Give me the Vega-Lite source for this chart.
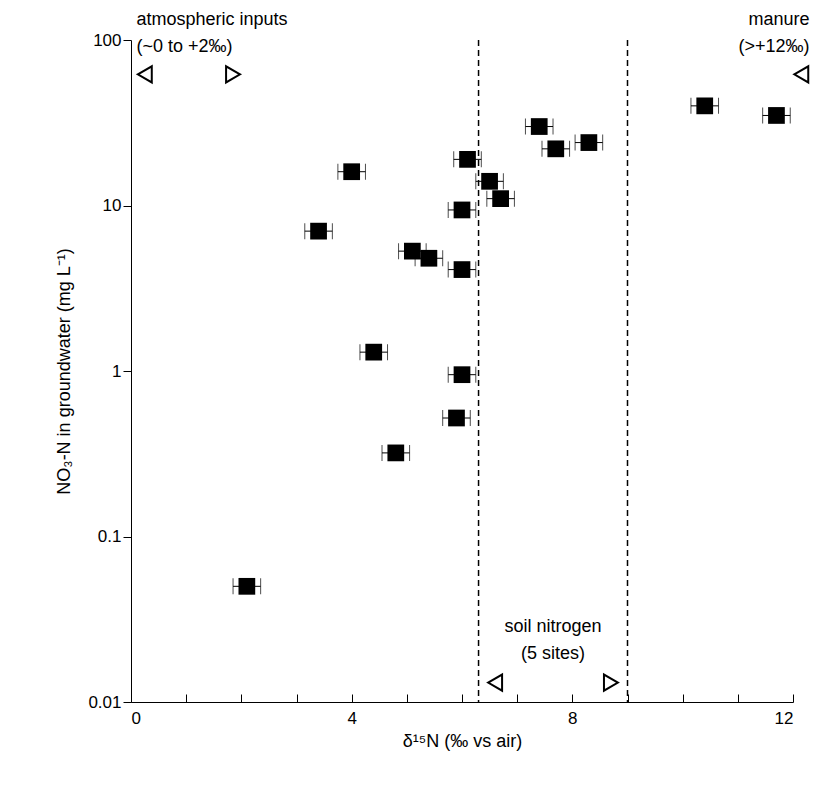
{
"$schema":"https://vega.github.io/schema/vega-lite/v6.json",
"width":662,"height":662,
"autosize":{"type":"none"},
"padding":{"left":131,"top":40,"right":22,"bottom":85},
"background":"white",
"config":{"view":{"stroke":null},"font":"Liberation Sans","axis":{"labelFont":"Liberation Sans","titleFont":"Liberation Sans","labelFontSize":17,"titleFontSize":18,"titleFontWeight":"normal","grid":false,"domainColor":"black","tickColor":"black","labelColor":"black","titleColor":"black"}},
"datasets":{
"pts":[
{"x":2.1,"y":0.05,"lo":1.85,"hi":2.35},
{"x":3.4,"y":7,"lo":3.15,"hi":3.65},
{"x":4.0,"y":16,"lo":3.75,"hi":4.25},
{"x":4.4,"y":1.3,"lo":4.15,"hi":4.65},
{"x":4.8,"y":0.32,"lo":4.55,"hi":5.05},
{"x":5.1,"y":5.3,"lo":4.85,"hi":5.35},
{"x":5.4,"y":4.8,"lo":5.15,"hi":5.65},
{"x":5.9,"y":0.52,"lo":5.65,"hi":6.15},
{"x":6.0,"y":0.95,"lo":5.75,"hi":6.25},
{"x":6.0,"y":4.1,"lo":5.75,"hi":6.25},
{"x":6.0,"y":9.4,"lo":5.75,"hi":6.25},
{"x":6.1,"y":19,"lo":5.85,"hi":6.35},
{"x":6.5,"y":14,"lo":6.25,"hi":6.75},
{"x":6.7,"y":11,"lo":6.45,"hi":6.95},
{"x":7.4,"y":30,"lo":7.15,"hi":7.65},
{"x":7.7,"y":22,"lo":7.45,"hi":7.95},
{"x":8.3,"y":24,"lo":8.05,"hi":8.55},
{"x":10.4,"y":40,"lo":10.15,"hi":10.65},
{"x":11.7,"y":35,"lo":11.45,"hi":11.95}],
"tri":[
{"x":0.25,"y":62,"s":"triangle-left"},
{"x":1.85,"y":62,"s":"triangle-right"},
{"x":12.15,"y":62,"s":"triangle-left"},
{"x":6.6,"y":0.0131,"s":"triangle-left"},
{"x":8.7,"y":0.0131,"s":"triangle-right"}],
"labL":[
{"x":0.1,"y":132,"t":"atmospheric inputs"},
{"x":0.1,"y":91,"t":"(~0 to +2‰)"}],
"labR":[
{"x":12.3,"y":132,"t":"manure"},
{"x":12.3,"y":91,"t":"(>+12‰)"}],
"labC":[
{"x":7.65,"y":0.0284,"t":"soil nitrogen"},
{"x":7.65,"y":0.0195,"t":"(5 sites)"}],
"vl":[{"x":6.3},{"x":9}]
},
"layer":[
{"data":{"name":"vl"},"mark":{"type":"rule","strokeDash":[6,4],"color":"black","strokeWidth":1.5},"encoding":{"x":{"field":"x","type":"quantitative"}}},
{"data":{"name":"pts"},"mark":{"type":"rule","color":"black"},"encoding":{
"x":{"field":"lo","type":"quantitative","scale":{"domain":[0,12]},"axis":{"values":[0,1,2,3,4,5,6,7,8,9,10,11,12],"format":"d","labelExpr":"datum.value%4==0?datum.label:''","title":"δ¹⁵N (‰ vs air)","tickSize":-8,"labelPadding":16,"titlePadding":6}},
"x2":{"field":"hi"},
"y":{"field":"y","type":"quantitative","scale":{"type":"log","domain":[0.01,100]},"axis":{"values":[0.01,0.1,1,10,100],"format":"~g","title":"NO₃-N in groundwater (mg L⁻¹)","tickSize":8,"titlePadding":14}}}},
{"data":{"name":"pts"},"mark":{"type":"tick","orient":"vertical","color":"black","size":16,"thickness":1},"encoding":{"x":{"field":"lo","type":"quantitative"},"y":{"field":"y","type":"quantitative"}}},
{"data":{"name":"pts"},"mark":{"type":"tick","orient":"vertical","color":"black","size":16,"thickness":1},"encoding":{"x":{"field":"hi","type":"quantitative"},"y":{"field":"y","type":"quantitative"}}},
{"data":{"name":"pts"},"mark":{"type":"square","filled":true,"color":"black","size":280,"opacity":1},"encoding":{"x":{"field":"x","type":"quantitative"},"y":{"field":"y","type":"quantitative"}}},
{"data":{"name":"tri"},"mark":{"type":"point","filled":false,"stroke":"black","strokeWidth":2,"size":260,"opacity":1,"clip":false},"encoding":{"x":{"field":"x","type":"quantitative"},"y":{"field":"y","type":"quantitative"},"shape":{"field":"s","type":"nominal","scale":null}}},
{"data":{"name":"labL"},"mark":{"type":"text","fontSize":18,"color":"black","clip":false,"baseline":"middle","align":"left"},"encoding":{"x":{"field":"x","type":"quantitative"},"y":{"field":"y","type":"quantitative"},"text":{"field":"t"}}},
{"data":{"name":"labR"},"mark":{"type":"text","fontSize":18,"color":"black","clip":false,"baseline":"middle","align":"right"},"encoding":{"x":{"field":"x","type":"quantitative"},"y":{"field":"y","type":"quantitative"},"text":{"field":"t"}}},
{"data":{"name":"labC"},"mark":{"type":"text","fontSize":18,"color":"black","clip":false,"baseline":"middle","align":"center"},"encoding":{"x":{"field":"x","type":"quantitative"},"y":{"field":"y","type":"quantitative"},"text":{"field":"t"}}}
]
}
